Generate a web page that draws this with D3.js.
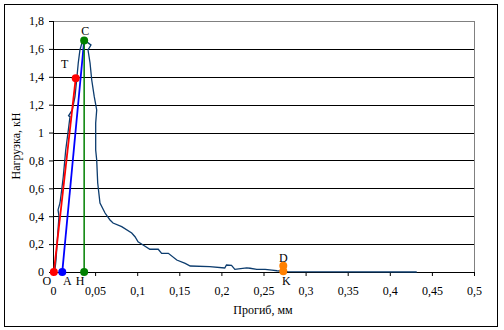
<!DOCTYPE html>
<html>
<head>
<meta charset="utf-8">
<script src="https://cdn.jsdelivr.net/npm/d3@7"></script>
<style>
  body { margin: 0; background: #fff; }
  text { font-family: "Liberation Serif", "Times New Roman", serif; font-size: 12px; fill: #000; }
</style>
</head>
<body>
<div id="chart"></div>
<script>
// Measured curve: deflection (mm) and load (kN)
var deflection = [0.002, 0.0036, 0.0051, 0.0071, 0.006, 0.0083, 0.0103, 0.0122, 0.0151, 0.0182,
  0.0202, 0.0185, 0.0229, 0.0261, 0.0281, 0.030, 0.032, 0.0348, 0.0368, 0.0396, 0.0451, 0.0416,
  0.044, 0.046, 0.049, 0.0519, 0.0507, 0.0507, 0.0519, 0.0531, 0.0558, 0.0618, 0.0677, 0.0713,
  0.0816, 0.0935, 0.0974, 0.101, 0.107, 0.115, 0.125, 0.129, 0.137, 0.147, 0.157, 0.163, 0.186,
  0.204, 0.206, 0.212, 0.216, 0.230, 0.234, 0.242, 0.252, 0.260, 0.266, 0.279, 0.432];
var load = [0, 0.086, 0.23, 0.40, 0.445, 0.495, 0.588, 0.683, 0.875, 1.018,
  1.114, 1.12, 1.162, 1.257, 1.377, 1.499, 1.592, 1.652, 1.664, 1.652, 1.628, 1.592,
  1.499, 1.377, 1.257, 1.162, 1.069, 0.875, 0.803, 0.638, 0.495, 0.423, 0.373, 0.351,
  0.325, 0.28, 0.253, 0.217, 0.194, 0.163, 0.163, 0.134, 0.134, 0.086, 0.062, 0.043, 0.038,
  0.029, 0.05, 0.047, 0.019, 0.029, 0.027, 0.019, 0.019, 0.014, 0.009, 0.002, 0];

// Construction points
var pointNames = ["O", "A", "H", "C", "T", "D", "K"];
var pointX = [0.001, 0.011, 0.037, 0.037, 0.027, 0.2735, 0.2735];
var pointY = [0, 0, 0, 1.66, 1.39, 0.045, 0.005];

var xTicks = [0, 0.05, 0.1, 0.15, 0.2, 0.25, 0.3, 0.35, 0.4, 0.45, 0.5];
var yTicks = [0, 0.2, 0.4, 0.6, 0.8, 1, 1.2, 1.4, 1.6, 1.8];

var width = 504, height = 330;
var margin = { top: 21, right: 30, bottom: 58, left: 53 };
var chartWidth = width - margin.left - margin.right;
var chartHeight = height - margin.top - margin.bottom;

var fmt = function(d) { return String(d).replace(".", ","); };

var svg = d3.select("#chart").append("svg")
  .attr("width", width)
  .attr("height", height);

// outer frame
svg.append("rect")
  .attr("x", 4.5).attr("y", 4.5)
  .attr("width", 493).attr("height", 322)
  .attr("fill", "none").attr("stroke", "#000");

var g = svg.append("g")
  .attr("transform", "translate(" + margin.left + "," + margin.top + ")");

var xScale = d3.scaleLinear().domain([0, 0.5]).range([0, chartWidth]);
var yScale = d3.scaleLinear().domain([0, 1.8]).range([chartHeight, 0]);

// grid
g.append("g")
  .selectAll("line")
  .data(yTicks.filter(function(d) { return d > 0; }))
  .enter().append("line")
  .attr("x1", 0).attr("x2", chartWidth)
  .attr("y1", function(d) { return Math.round(yScale(d)) + 0.5; })
  .attr("y2", function(d) { return Math.round(yScale(d)) + 0.5; })
  .attr("stroke", function(d) { return d === 1.8 ? "#808080" : "#000"; });

// right border of plot area
g.append("line")
  .attr("x1", chartWidth + 0.5).attr("x2", chartWidth + 0.5)
  .attr("y1", 0).attr("y2", chartHeight)
  .attr("stroke", "#808080");

// axes
var xAxis = d3.axisBottom(xScale).tickValues(xTicks).tickSize(4).tickPadding(10).tickFormat(fmt);
var xg = g.append("g")
  .attr("transform", "translate(0," + chartHeight + ")")
  .call(xAxis);
xg.select(".domain").remove();
xg.append("line").attr("x1", 0).attr("x2", chartWidth).attr("y1", 0.5).attr("y2", 0.5).attr("stroke", "#000");

var yAxis = d3.axisLeft(yScale).tickValues(yTicks).tickSize(4).tickPadding(5).tickFormat(fmt);
var yg = g.append("g").call(yAxis);
yg.select(".domain").remove();
yg.append("line").attr("x1", 0.5).attr("x2", 0.5).attr("y1", 0).attr("y2", chartHeight).attr("stroke", "#000");

svg.selectAll(".tick text")
  .attr("font-family", "Liberation Serif").attr("font-size", 12).attr("fill", "#000");

// measured curve
var curveData = deflection.map(function(d, i) { return [d, load[i]]; });
g.append("path")
  .datum(curveData)
  .attr("fill", "none")
  .attr("stroke", "#0c3c6e")
  .attr("stroke-width", 1.3)
  .attr("d", d3.line()
    .x(function(d) { return xScale(d[0]); })
    .y(function(d) { return yScale(d[1]); }));

var pt = function(i) { return [xScale(pointX[i]), yScale(pointY[i])]; };
var segment = function(a, b, color, w) {
  g.append("line")
    .attr("x1", pt(a)[0]).attr("y1", pt(a)[1])
    .attr("x2", pt(b)[0]).attr("y2", pt(b)[1])
    .attr("stroke", color).attr("stroke-width", w);
};

segment(0, 4, "#ff0000", 1.8); // O - T
segment(1, 3, "#0000ff", 1.8); // A - C
segment(2, 3, "#008000", 1.5); // H - C

var pointColors = ["#ff0000", "#0000ff", "#008000", "#008000", "#ff0000", "#ff8000", "#ff8000"];
g.append("g")
  .selectAll("circle")
  .data(pointNames)
  .enter().append("circle")
  .attr("cx", function(d, i) { return xScale(pointX[i]); })
  .attr("cy", function(d, i) { return yScale(pointY[i]); })
  .attr("r", 4)
  .attr("fill", function(d, i) { return pointColors[i]; });

// point labels (offsets from the point, px)
var labelDx = [-7, 5, -4, 1, -11, 0, 3];
var labelDy = [13, 13, 13, -6, -10, -4, 14];
g.append("g")
  .selectAll("text")
  .data(pointNames)
  .enter().append("text")
  .attr("x", function(d, i) { return xScale(pointX[i]) + labelDx[i]; })
  .attr("y", function(d, i) { return yScale(pointY[i]) + labelDy[i]; })
  .attr("text-anchor", "middle")
  .text(function(d) { return d; });

// axis titles
svg.append("text")
  .attr("x", 263).attr("y", 314)
  .attr("text-anchor", "middle")
  .text("Прогиб, мм");

svg.append("text")
  .attr("transform", "translate(20,146) rotate(-90)")
  .attr("text-anchor", "middle")
  .text("Нагрузка, кН");
</script>
</body>
</html>
